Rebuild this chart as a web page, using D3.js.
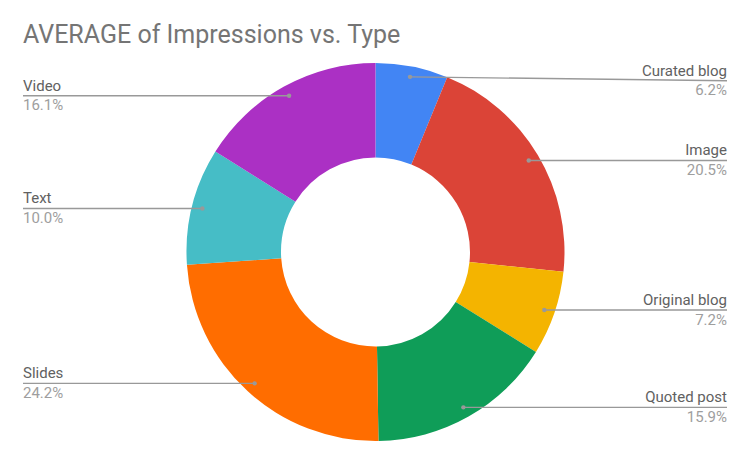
<!DOCTYPE html>
<html>
<head>
  <meta charset="utf-8">
  <title>AVERAGE of Impressions vs. Type</title>
  <script src="https://cdn.jsdelivr.net/npm/d3@7"></script>
  <style>
    body { margin: 0; background: #fff; }
    .title { font-family: Roboto, sans-serif; font-size: 25px; fill: #757575; }
    .name { font-family: Roboto, sans-serif; font-size: 15px; fill: #616161; }
    .pct { font-family: Roboto, sans-serif; font-size: 15px; fill: #9e9e9e; }
    .leader { stroke: #999; stroke-width: 1.4px; fill: none; }
    .dot { fill: #999; }
  </style>
</head>
<body>
<svg id="chart"></svg>
<script>
  var types = ['Curated blog', 'Image', 'Original blog', 'Quoted post', 'Slides', 'Text', 'Video'];
  var shares = [6.2, 20.5, 7.2, 15.9, 24.2, 10.0, 16.1];
  var colors = ['#4285f4', '#db4437', '#f4b400', '#0f9d58', '#ff6d00', '#46bdc6', '#ab30c4'];

  var width = 750, height = 463;
  var cx = 375.5, cy = 252, outer = 189, inner = 94.5;
  var leftX = 23, rightX = 727;

  var svg = d3.select('#chart').attr('width', width).attr('height', height);

  svg.append('text')
    .attr('class', 'title')
    .attr('x', 23).attr('y', 43)
    .text('AVERAGE of Impressions vs. Type');

  var data = types.map(function (t, i) { return { type: t, value: shares[i], color: colors[i] }; });
  var total = d3.sum(shares);

  var pie = d3.pie().sort(null).value(function (d) { return d.value; });
  var arc = d3.arc().innerRadius(inner).outerRadius(outer);
  var arcs = pie(data);

  var g = svg.append('g').attr('transform', 'translate(' + cx + ',' + cy + ')');

  g.selectAll('path')
    .data(arcs).enter().append('path')
      .attr('d', arc)
      .attr('fill', function (d) { return d.data.color; });

  // labels: dot inside the slice, leader line out to the side
  var dotArc = d3.arc().innerRadius(outer - 10.5).outerRadius(outer - 10.5);

  var labels = svg.append('g').selectAll('g')
    .data(arcs).enter().append('g');

  labels.each(function (d) {
    var c = dotArc.centroid(d);
    var px = cx + c[0], py = cy + c[1];
    var right = px > cx;
    var ly = Math.max(py, 80.7);
    var ex = right ? rightX : leftX;
    var sel = d3.select(this);

    sel.append('line').attr('class', 'leader')
      .attr('x1', px).attr('y1', py)
      .attr('x2', ex).attr('y2', ly);
    sel.append('circle').attr('class', 'dot')
      .attr('cx', px).attr('cy', py).attr('r', 2.2);
    sel.append('text').attr('class', 'name')
      .attr('x', ex).attr('y', ly - 5)
      .attr('text-anchor', right ? 'end' : 'start')
      .text(d.data.type);
    sel.append('text').attr('class', 'pct')
      .attr('x', ex).attr('y', ly + 14.5)
      .attr('text-anchor', right ? 'end' : 'start')
      .text((d.data.value / total * 100).toFixed(1) + '%');
  });
</script>
</body>
</html>
